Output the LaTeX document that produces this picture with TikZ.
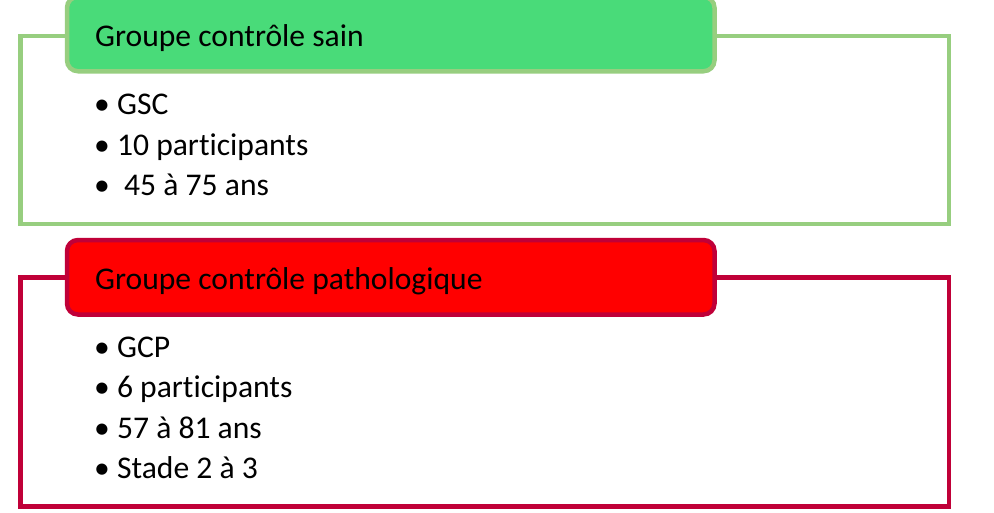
\documentclass[tikz,border=0pt]{standalone}
\usepackage{fontspec}
\setmainfont{Carlito}[Ligatures={NoCommon}]
\usepackage{tikz}
\usetikzlibrary{positioning}

\definecolor{vertonglet}{RGB}{73,219,121}
\definecolor{vertclair}{RGB}{151,206,127}
\definecolor{rougebord}{RGB}{192,0,56}

\begin{document}
\begin{tikzpicture}[x=1pt, y=-1pt,
    cadre/.style={rectangle, draw, line width=4.5pt, fill=white, inner sep=0pt},
    onglet/.style={rectangle, rounded corners=11pt, draw, line width=4.5pt, inner sep=0pt,
      minimum width=647.5pt, minimum height=74.5pt},
    titre/.style={anchor=base west, inner sep=0pt, font=\fontsize{31.6}{38}\selectfont},
    puce/.style={anchor=base west, inner sep=0pt, font=\fontsize{31.6}{38}\selectfont}]
  \useasboundingbox (0,0) rectangle (994,512);
  \clip (0,0) rectangle (994,512);

  % Groupe sain
  \node (cadreA) at (484.75,130) [cadre, draw=vertclair, minimum width=928.5pt, minimum height=188pt] {};
  \node (ongletA) at (390.75,34) [onglet, draw=vertclair, fill=vertonglet] {};
  \node (titreA) at (95,46) [titre] {Groupe contrôle sain};
  \node (a1) at (94,114) [puce] {• GSC};
  \node (a2) at (94,155) [puce] {• 10 participants};
  \node (a3) at (94,195) [puce] {•\ \ 45 à 75 ans};

  % Groupe pathologique
  \node (cadreB) at (484.75,392) [cadre, draw=rougebord, minimum width=928.5pt, minimum height=229pt] {};
  \node (ongletB) at (390.75,277.25) [onglet, draw=rougebord, fill=red] {};
  \node (titreB) at (95,289) [titre] {Groupe contrôle pathologique};
  \node (b1) at (94,357) [puce] {• GCP};
  \node (b2) at (94,397) [puce] {• 6 participants};
  \node (b3) at (94,438) [puce] {• 57 à 81 ans};
  \node (b4) at (94,478) [puce] {• Stade 2 à 3};
\end{tikzpicture}
\end{document}
